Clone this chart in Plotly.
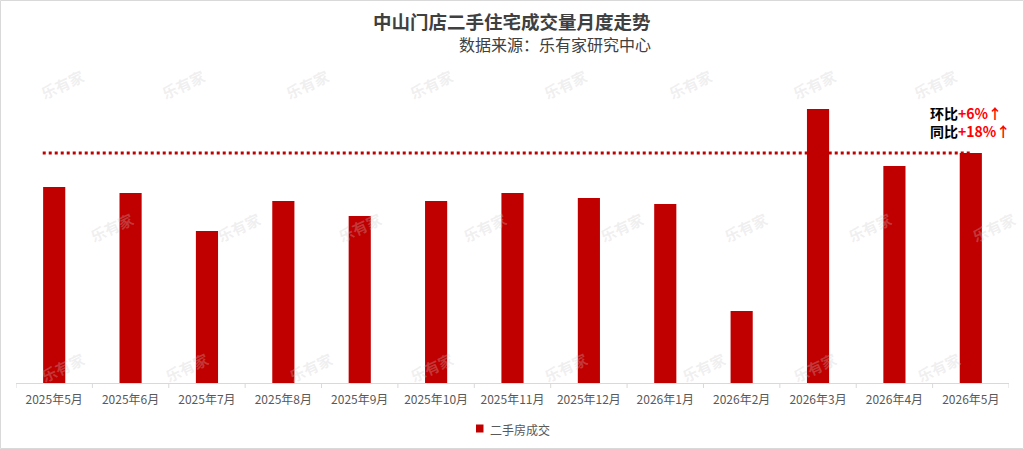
import plotly.graph_objects as go

months = ["2025年5月", "2025年6月", "2025年7月", "2025年8月", "2025年9月", "2025年10月",
          "2025年11月", "2025年12月", "2026年1月", "2026年2月", "2026年3月", "2026年4月", "2026年5月"]
volumes = [196, 190, 152, 182, 167, 182, 190, 185, 179, 72, 274, 217, 230]
series_name = "二手房成交"
mom_text = "+6%↑"
yoy_text = "+18%↑"

RED = "#C00000"
W, H = 1024, 449
L, R, T, B = 16, 15, 75, 66
pw, ph = W - L - R, H - T - B


def px_x(px):
    return (px - L) / pw


def px_y(py):
    return (H - B - py) / ph


xs = list(range(len(months)))
fig = go.Figure()

# dotted reference line at latest value level
fig.add_trace(go.Scatter(
    x=[-0.15, len(months) - 1], y=[volumes[-1], volumes[-1]],
    mode="lines", line=dict(color=RED, width=3, dash="dot"),
    showlegend=False, hoverinfo="skip"))

fig.add_trace(go.Bar(
    x=xs, y=volumes, name=series_name, marker=dict(color=RED, line=dict(width=0)),
    width=0.29, showlegend=False))

font = "Microsoft YaHei, Noto Sans CJK SC, sans-serif"

annotations = []
# watermarks
wm_rows = [
    (85, [62, 183, 307, 431, 565, 690, 814, 935]),
    (227, [111, 238, 359, 484, 621, 745, 869, 993]),
    (367, [62, 186, 310, 431, 565, 703, 814, 938]),
]
for py, xs_px in wm_rows:
    for px in xs_px:
        annotations.append(dict(
            x=px_x(px), y=px_y(py), xref="paper", yref="paper",
            xanchor="center", yanchor="middle",
            text="<b>乐有家</b>", showarrow=False, textangle=-25,
            font=dict(size=15, color="rgba(200,200,200,0.28)", family=font)))

annotations += [
    dict(x=px_x(512), y=px_y(21), xref="paper", yref="paper", xanchor="center", yanchor="middle",
         text="<b>中山门店二手住宅成交量月度走势</b>",
         showarrow=False, font=dict(size=18.5, color="#404040", family=font)),
    dict(x=px_x(653), y=px_y(44), xref="paper", yref="paper", xanchor="right", yanchor="middle",
         text="数据来源：乐有家研究中心",
         showarrow=False, font=dict(size=16, color="#404040", family=font)),
    dict(x=px_x(928), y=px_y(122), xref="paper", yref="paper", xanchor="left", yanchor="middle",
         align="left",
         text="<b>环比<span style='color:#FF0000'>" + mom_text + "</span></b><br>"
              "<b>同比<span style='color:#FF0000'>" + yoy_text + "</span></b>",
         showarrow=False, font=dict(size=14, color="#000000", family=font)),
    # legend text
    dict(x=px_x(488), y=px_y(429), xref="paper", yref="paper", xanchor="left", yanchor="middle",
         text=series_name, showarrow=False, font=dict(size=12, color="#595959", family=font)),
]

shapes = [
    dict(type="rect", xref="paper", yref="paper",
         x0=px_x(0.5), x1=px_x(W - 0.5), y0=px_y(H - 0.5), y1=px_y(0.5),
         line=dict(color="#D9D9D9", width=1), layer="below"),
    # legend marker
    dict(type="rect", xref="paper", yref="paper",
         x0=px_x(476), x1=px_x(483.5), y0=px_y(432.5), y1=px_y(424.5),
         fillcolor=RED, line=dict(width=0)),
]

fig.update_layout(
    width=W, height=H, margin=dict(l=L, r=R, t=T, b=B, autoexpand=False),
    paper_bgcolor="white", plot_bgcolor="white",
    font=dict(family=font, size=12, color="#595959"),
    xaxis=dict(tickmode="array", tickvals=xs, ticktext=months, range=[-0.5, len(months) - 0.5],
               showgrid=False, zeroline=False, showline=True, linecolor="#D9D9D9", linewidth=1,
               ticks="", ticklabelstandoff=6, tickfont=dict(size=12, color="#595959"), fixedrange=True),
    yaxis=dict(range=[0, ph], visible=False, fixedrange=True),
    showlegend=False,
    annotations=annotations, shapes=shapes,
)

# boundary tick marks between categories
for i in range(len(months) + 1):
    fig.add_shape(type="line", xref="x", yref="paper", x0=i - 0.5, x1=i - 0.5,
                  y0=0, y1=-5 / ph, line=dict(color="#D9D9D9", width=1))

fig.write_html("out.html")
